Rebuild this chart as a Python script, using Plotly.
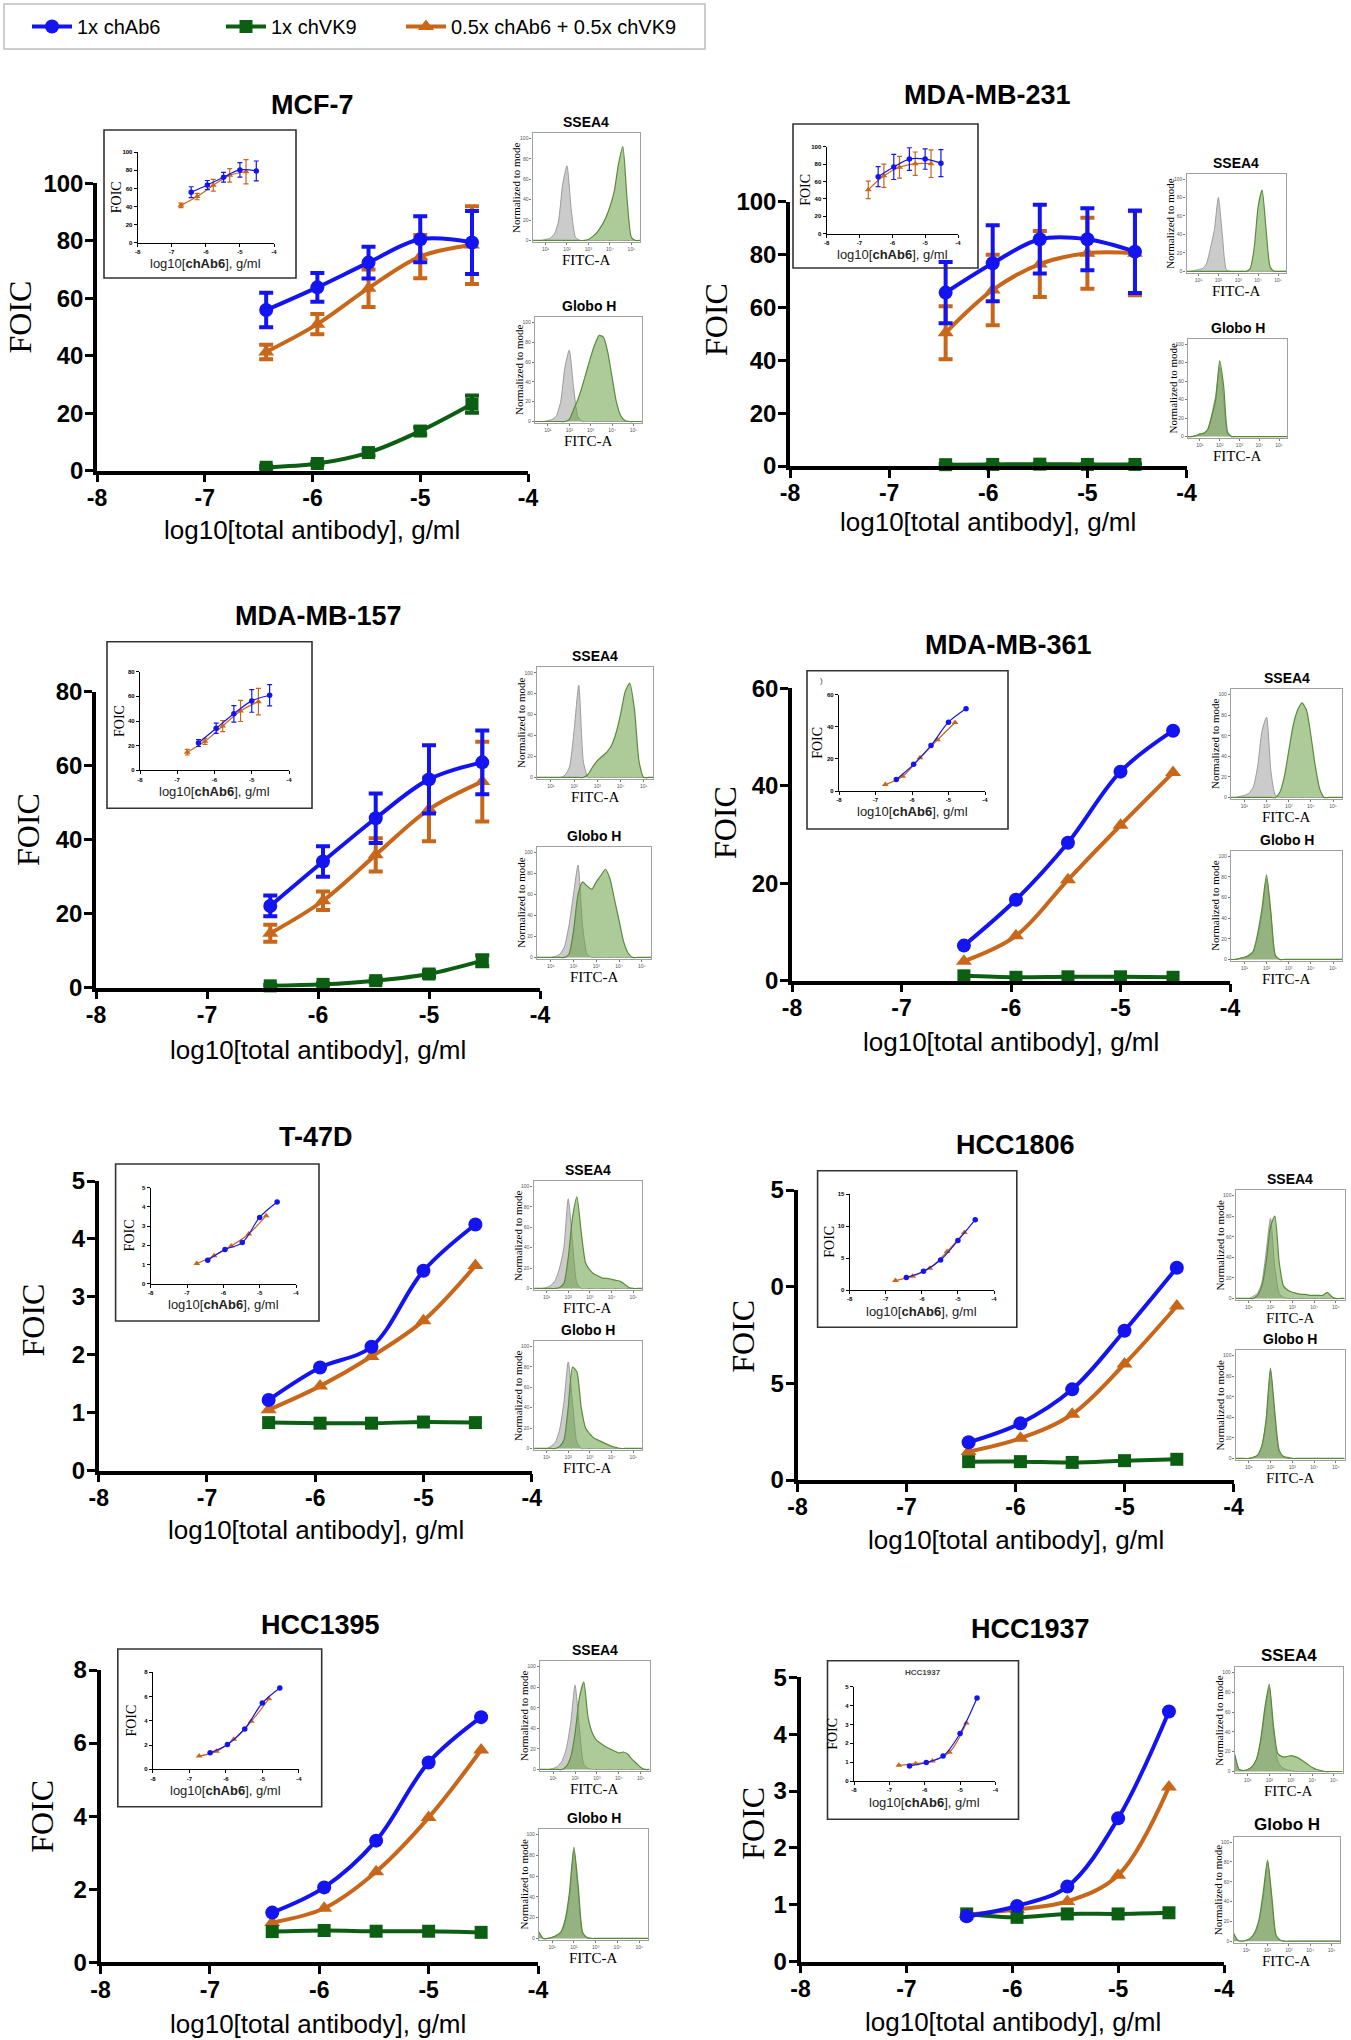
import math
import plotly.graph_objects as go

W, H = 1351, 2040

# ---------------- data ----------------
SERIES_NAMES = ["1x chAb6", "1x chVK9", "0.5x chAb6 + 0.5x chVK9"]
LOG_DOSE = [-6.43, -5.955, -5.48, -5.0, -4.52]          # log10[total antibody], g/ml
LOG_DOSE_MIX_AB6 = [x + math.log10(0.5) for x in LOG_DOSE]  # chAb6 content of the 0.5x mix
X_TICKS = [-8, -7, -6, -5, -4]
X_TICK_TEXT = ["-8", "-7", "-6", "-5", "-4"]

MCF7_AB6 = [55.9, 63.8, 72.4, 80.5, 79.4]
MCF7_AB6_ERR = [6.0, 5.0, 5.5, 8.0, 11.0]
MCF7_VK9 = [1.2, 2.5, 6.3, 13.8, 23.2]
MCF7_VK9_ERR = [0.5, 0.5, 1.0, 1.2, 3.0]
MCF7_MIX = [41.3, 51.0, 63.5, 74.5, 78.5]
MCF7_MIX_ERR = [2.5, 3.5, 6.5, 7.5, 13.5]

MDA231_AB6 = [65.6, 76.7, 85.8, 85.8, 81.1]
MDA231_AB6_ERR = [11.6, 14.4, 13.0, 11.7, 15.6]
MDA231_VK9 = [0.5, 0.6, 0.7, 0.6, 0.6]
MDA231_VK9_ERR = [0.2, 0.2, 0.2, 0.2, 0.2]
MDA231_MIX = [50.4, 66.6, 76.4, 80.5, 80.5]
MDA231_MIX_ERR = [10.0, 13.3, 12.5, 13.4, 15.9]

MDA157_AB6 = [22.1, 34.1, 45.8, 56.3, 60.9]
MDA157_AB6_ERR = [2.8, 4.1, 6.7, 9.2, 8.6]
MDA157_VK9 = [0.5, 0.9, 1.9, 3.7, 7.3]
MDA157_VK9_ERR = [0.3, 0.3, 0.5, 0.8, 1.5]
MDA157_MIX = [14.7, 23.5, 35.9, 48.2, 55.7]
MDA157_MIX_ERR = [2.3, 2.5, 4.5, 8.6, 10.8]

MDA361_AB6 = [7.2, 16.6, 28.3, 42.9, 51.3]
MDA361_VK9 = [1.0, 0.7, 0.8, 0.8, 0.7]
MDA361_MIX = [4.0, 9.2, 20.7, 31.9, 42.7]

T47D_AB6 = [1.22, 1.78, 2.14, 3.45, 4.25]
T47D_VK9 = [0.83, 0.82, 0.82, 0.84, 0.83]
T47D_MIX = [1.05, 1.46, 1.97, 2.59, 3.54]

HCC1806_AB6 = [1.95, 2.93, 4.69, 7.72, 10.98]
HCC1806_VK9 = [0.95, 0.95, 0.91, 1.0, 1.07]
HCC1806_MIX = [1.47, 2.16, 3.40, 6.0, 9.0]

HCC1395_AB6 = [1.36, 2.05, 3.33, 5.47, 6.71]
HCC1395_VK9 = [0.84, 0.87, 0.85, 0.85, 0.82]
HCC1395_MIX = [1.09, 1.48, 2.48, 3.96, 5.81]

HCC1937_AB6 = [0.80, 0.98, 1.32, 2.52, 4.40]
HCC1937_VK9 = [0.84, 0.78, 0.84, 0.84, 0.86]
HCC1937_MIX = [0.83, 0.92, 1.06, 1.52, 3.07]

# flow cytometry histograms (log10 FITC-A channel, % of mode)
HIST_X = [0.4, 0.6, 0.8, 1.0, 1.2, 1.4, 1.6, 1.8, 2.0, 2.2, 2.4, 2.6, 2.8,
          3.0, 3.2, 3.4, 3.6, 3.8, 4.0, 4.2, 4.4, 4.6, 4.8, 5.0, 5.2, 5.4]
HIST_TICKS = [1, 2, 3, 4, 5]
HIST_TICK_TEXT = ["10¹", "10²", "10³", "10⁴", "10⁵"]
HIST_Y_TICKS = [0, 20, 40, 60, 80, 100]

MCF7_SSEA4_ISO = [0, 0, 0, 1, 2, 6, 18, 55, 73, 30, 3, 0, 0, 0, 0, 0, 0, 0, 0, 0, 0, 0, 0, 0, 0, 0]
MCF7_SSEA4_AB = [0, 0, 0, 0, 0, 0, 0, 0, 0, 0, 0, 0, 0, 1, 4, 8, 14, 22, 33, 48, 75, 92, 40, 3, 0, 0]
MCF7_GLOBOH_ISO = [0, 0, 0, 1, 2, 6, 20, 55, 72, 35, 5, 0, 0, 0, 0, 0, 0, 0, 0, 0, 0, 0, 0, 0, 0, 0]
MCF7_GLOBOH_AB = [0, 0, 0, 0, 0, 0, 0, 0, 2, 12, 22, 35, 50, 65, 78, 87, 85, 70, 45, 20, 6, 1, 0, 0, 0, 0]

MDA231_SSEA4_ISO = [0, 0, 1, 2, 3, 8, 25, 45, 80, 40, 2, 0, 0, 0, 0, 0, 0, 0, 0, 0, 0, 0, 0, 0, 0, 0]
MDA231_SSEA4_AB = [0, 0, 0, 0, 0, 0, 0, 0, 0, 0, 0, 0, 0, 0, 0, 0, 3, 25, 70, 88, 45, 5, 0, 0, 0, 0]
MDA231_GLOBOH_ISO = [0, 0, 1, 2, 3, 8, 24, 45, 75, 40, 3, 0, 0, 0, 0, 0, 0, 0, 0, 0, 0, 0, 0, 0, 0, 0]
MDA231_GLOBOH_AB = [0, 0, 1, 3, 4, 8, 22, 40, 82, 55, 5, 0, 0, 0, 0, 0, 0, 0, 0, 0, 0, 0, 0, 0, 0, 0]

MDA157_SSEA4_ISO = [0, 0, 0, 0, 0, 0, 2, 10, 45, 88, 15, 0, 0, 0, 0, 0, 0, 0, 0, 0, 0, 0, 0, 0, 0, 0]
MDA157_SSEA4_AB = [0, 0, 0, 0, 0, 0, 0, 0, 0, 0, 0, 3, 10, 16, 20, 24, 30, 42, 60, 82, 90, 65, 15, 0, 0, 0]
MDA157_GLOBOH_ISO = [0, 0, 0, 0, 1, 3, 10, 30, 60, 88, 30, 3, 0, 0, 0, 0, 0, 0, 0, 0, 0, 0, 0, 0, 0, 0]
MDA157_GLOBOH_AB = [0, 0, 0, 0, 0, 0, 0, 3, 25, 60, 72, 68, 65, 72, 78, 84, 75, 55, 35, 15, 4, 0, 0, 0, 0, 0]

MDA361_SSEA4_ISO = [0, 0, 1, 2, 4, 10, 30, 65, 78, 25, 2, 0, 0, 0, 0, 0, 0, 0, 0, 0, 0, 0, 0, 0, 0, 0]
MDA361_SSEA4_AB = [0, 0, 0, 0, 0, 0, 0, 0, 0, 0, 0, 5, 20, 45, 70, 85, 92, 85, 60, 30, 8, 0, 0, 0, 0, 0]
MDA361_GLOBOH_ISO = [0, 0, 1, 2, 3, 7, 22, 45, 78, 42, 3, 0, 0, 0, 0, 0, 0, 0, 0, 0, 0, 0, 0, 0, 0, 0]
MDA361_GLOBOH_AB = [0, 0, 1, 2, 4, 8, 25, 50, 82, 45, 4, 0, 0, 0, 0, 0, 0, 0, 0, 0, 0, 0, 0, 0, 0, 0]

T47D_SSEA4_ISO = [0, 0, 0, 1, 3, 8, 20, 40, 88, 45, 5, 0, 0, 0, 0, 0, 0, 0, 0, 0, 0, 0, 0, 0, 0, 0]
T47D_SSEA4_AB = [0, 0, 0, 0, 0, 0, 1, 5, 30, 70, 90, 55, 25, 18, 14, 12, 10, 10, 9, 8, 7, 4, 1, 0, 0, 0]
T47D_GLOBOH_ISO = [0, 0, 0, 0, 2, 6, 18, 45, 85, 45, 6, 0, 0, 0, 0, 0, 0, 0, 0, 0, 0, 0, 0, 0, 0, 0]
T47D_GLOBOH_AB = [0, 0, 0, 0, 0, 0, 2, 8, 40, 80, 75, 40, 20, 14, 10, 8, 6, 4, 2, 1, 0, 0, 0, 0, 0, 0]

HCC1806_SSEA4_ISO = [0, 0, 0, 0, 2, 5, 15, 45, 78, 30, 5, 1, 0, 0, 0, 0, 0, 0, 0, 0, 0, 0, 0, 0, 0, 0]
HCC1806_SSEA4_AB = [0, 0, 0, 0, 0, 3, 12, 35, 70, 80, 35, 12, 8, 6, 5, 4, 4, 3, 3, 3, 3, 6, 2, 0, 0, 0]
HCC1806_GLOBOH_ISO = [0, 0, 0, 0, 1, 3, 12, 35, 85, 40, 5, 1, 0, 0, 0, 0, 0, 0, 0, 0, 0, 0, 0, 0, 0, 0]
HCC1806_GLOBOH_AB = [0, 0, 0, 0, 1, 3, 12, 38, 88, 45, 8, 2, 1, 0, 0, 0, 0, 0, 0, 0, 0, 0, 0, 0, 0, 0]

HCC1395_SSEA4_ISO = [0, 0, 0, 1, 3, 8, 20, 45, 82, 40, 5, 1, 0, 0, 0, 0, 0, 0, 0, 0, 0, 0, 0, 0, 0, 0]
HCC1395_SSEA4_AB = [0, 0, 0, 0, 0, 0, 3, 12, 35, 70, 85, 50, 35, 28, 25, 22, 20, 18, 16, 17, 15, 10, 6, 2, 0, 0]
HCC1395_GLOBOH_ISO = [6, 0, 0, 1, 2, 5, 15, 40, 85, 45, 5, 1, 0, 0, 0, 0, 0, 0, 0, 0, 0, 0, 0, 0, 0, 0]
HCC1395_GLOBOH_AB = [6, 0, 0, 1, 3, 6, 18, 45, 88, 50, 6, 1, 0, 0, 0, 0, 0, 0, 0, 0, 0, 0, 0, 0, 0, 0]

HCC1937_SSEA4_ISO = [17, 2, 1, 2, 5, 12, 30, 60, 85, 40, 10, 4, 2, 1, 0, 0, 0, 0, 0, 0, 0, 0, 0, 0, 0, 0]
HCC1937_SSEA4_AB = [17, 2, 1, 2, 5, 12, 32, 65, 88, 45, 18, 15, 15, 16, 15, 13, 10, 7, 4, 2, 1, 0, 0, 0, 0, 0]
HCC1937_GLOBOH_ISO = [8, 1, 0, 1, 3, 8, 20, 45, 80, 40, 5, 1, 0, 0, 0, 0, 0, 0, 0, 0, 0, 0, 0, 0, 0, 0]
HCC1937_GLOBOH_AB = [8, 1, 0, 1, 3, 9, 22, 50, 82, 45, 6, 1, 0, 0, 0, 0, 0, 0, 0, 0, 0, 0, 0, 0, 0, 0]

PANELS = [
    dict(name="MCF-7", ab6=MCF7_AB6, ab6_err=MCF7_AB6_ERR, vk9=MCF7_VK9, vk9_err=MCF7_VK9_ERR,
         mix=MCF7_MIX, mix_err=MCF7_MIX_ERR, ymax=100, dtick=20, iymax=100, idtick=20,
         hist=(MCF7_SSEA4_ISO, MCF7_SSEA4_AB, MCF7_GLOBOH_ISO, MCF7_GLOBOH_AB)),
    dict(name="MDA-MB-231", ab6=MDA231_AB6, ab6_err=MDA231_AB6_ERR, vk9=MDA231_VK9, vk9_err=MDA231_VK9_ERR,
         mix=MDA231_MIX, mix_err=MDA231_MIX_ERR, ymax=100, dtick=20, iymax=100, idtick=20,
         hist=(MDA231_SSEA4_ISO, MDA231_SSEA4_AB, MDA231_GLOBOH_ISO, MDA231_GLOBOH_AB)),
    dict(name="MDA-MB-157", ab6=MDA157_AB6, ab6_err=MDA157_AB6_ERR, vk9=MDA157_VK9, vk9_err=MDA157_VK9_ERR,
         mix=MDA157_MIX, mix_err=MDA157_MIX_ERR, ymax=80, dtick=20, iymax=80, idtick=20,
         hist=(MDA157_SSEA4_ISO, MDA157_SSEA4_AB, MDA157_GLOBOH_ISO, MDA157_GLOBOH_AB)),
    dict(name="MDA-MB-361", ab6=MDA361_AB6, ab6_err=None, vk9=MDA361_VK9, vk9_err=None,
         mix=MDA361_MIX, mix_err=None, ymax=60, dtick=20, iymax=60, idtick=20,
         hist=(MDA361_SSEA4_ISO, MDA361_SSEA4_AB, MDA361_GLOBOH_ISO, MDA361_GLOBOH_AB)),
    dict(name="T-47D", ab6=T47D_AB6, ab6_err=None, vk9=T47D_VK9, vk9_err=None,
         mix=T47D_MIX, mix_err=None, ymax=5, dtick=1, iymax=5, idtick=1,
         hist=(T47D_SSEA4_ISO, T47D_SSEA4_AB, T47D_GLOBOH_ISO, T47D_GLOBOH_AB)),
    dict(name="HCC1806", ab6=HCC1806_AB6, ab6_err=None, vk9=HCC1806_VK9, vk9_err=None,
         mix=HCC1806_MIX, mix_err=None, ymax=15, dtick=5, iymax=15, idtick=5,
         ytext=["0", "5", "0", "5"],
         hist=(HCC1806_SSEA4_ISO, HCC1806_SSEA4_AB, HCC1806_GLOBOH_ISO, HCC1806_GLOBOH_AB)),
    dict(name="HCC1395", ab6=HCC1395_AB6, ab6_err=None, vk9=HCC1395_VK9, vk9_err=None,
         mix=HCC1395_MIX, mix_err=None, ymax=8, dtick=2, iymax=8, idtick=2,
         hist=(HCC1395_SSEA4_ISO, HCC1395_SSEA4_AB, HCC1395_GLOBOH_ISO, HCC1395_GLOBOH_AB)),
    dict(name="HCC1937", ab6=HCC1937_AB6, ab6_err=None, vk9=HCC1937_VK9, vk9_err=None,
         mix=HCC1937_MIX, mix_err=None, ymax=5, dtick=1, iymax=5, idtick=1,
         inset_title="HCC1937",
         hist=(HCC1937_SSEA4_ISO, HCC1937_SSEA4_AB, HCC1937_GLOBOH_ISO, HCC1937_GLOBOH_AB)),
]

# ---------------- layout geometry (pixels) ----------------
GEOM = [
    dict(main=(97, 528, 183.3, 470.7), ibox=(104, 296, 130, 278), iax=(137.7, 274, 152.3, 242.7),
         ssea=(532.6, 640, 132.7, 242), globo=(535, 642, 317, 423),
         title=(312, 105), ylab=(19.5, 317), xlab=(312, 528)),
    dict(main=(790, 1186.5, 201.7, 466), ibox=(793, 978, 124, 268), iax=(826.6, 958, 146.7, 233.7),
         ssea=(1186.5, 1286, 174, 272.7), globo=(1188, 1287, 339, 438),
         title=(987.7, 95), ylab=(716, 320), xlab=(988, 520)),
    dict(main=(96, 540, 691.7, 987.7), ibox=(107, 312, 641.7, 808.3), iax=(140, 289, 671.7, 770.3),
         ssea=(537, 653, 667, 779), globo=(537, 651, 846.7, 959),
         title=(318, 616), ylab=(28, 830), xlab=(318, 1048)),
    dict(main=(792, 1230, 688.3, 980.7), ibox=(807, 1008, 670.7, 829), iax=(839, 985, 694.7, 791),
         ssea=(1231, 1342, 689, 799), globo=(1231, 1342, 850.7, 961),
         title=(1009, 645), ylab=(725, 823), xlab=(1011, 1040)),
    dict(main=(98.7, 531.7, 1181, 1470.7), ibox=(115.6, 319, 1164, 1321), iax=(150.7, 296, 1187.7, 1283.7),
         ssea=(533.5, 642, 1181, 1290), globo=(533.5, 642, 1341, 1450),
         title=(316, 1136.7), ylab=(32.5, 1320), xlab=(316, 1528)),
    dict(main=(797.5, 1233.5, 1190, 1480), ibox=(817.6, 1016.8, 1170.7, 1327.3), iax=(849.7, 994, 1194, 1290),
         ssea=(1235.6, 1344.6, 1190, 1300), globo=(1235.6, 1344.6, 1350, 1460),
         title=(1015.5, 1145), ylab=(743, 1336.7), xlab=(1015.5, 1538)),
    dict(main=(100.5, 538, 1670, 1962.3), ibox=(117.8, 321.7, 1649, 1806.7), iax=(152.8, 298.8, 1672.3, 1769.3),
         ssea=(540, 649.5, 1661, 1771), globo=(539, 648, 1829, 1940),
         title=(320, 1625), ylab=(42, 1816.7), xlab=(318, 2021.7)),
    dict(main=(800.5, 1224, 1677.3, 1961.7), ibox=(827.5, 1018.5, 1660.7, 1819.3), iax=(854, 995.4, 1686.7, 1781),
         ssea=(1234.8, 1342.5, 1667, 1773), globo=(1233.5, 1340, 1836.7, 1942.7),
         title=(1030.5, 1629), ylab=(752.7, 1823), xlab=(1012.5, 2020)),
]
LEGEND_BOX = (4, 705, 4, 49)
LEGEND_X = [27, 221, 401]
LEGEND_TOP = 7

BLUE = "#1414f0"
GREEN = "#0b5e12"
ORANGE = "#c8661a"
SANS = "Liberation Sans, Arial, sans-serif"
SERIF = "Liberation Serif, Times New Roman, serif"


def X(p):
    return p / W


def Y(p):
    return 1 - p / H


def names(n):
    s = "" if n == 1 else str(n)
    return "xaxis" + s, "yaxis" + s, "x" + s, "y" + s


fig = go.Figure()
axes = {}
annotations = []
shapes = []
LEGEND_IDS = ["legend", "legend2", "legend3"]


def ann(text, x, y, size, family=SANS, bold=False, angle=0, color="black"):
    annotations.append(dict(text=text, x=X(x), y=Y(y), xref="paper", yref="paper",
                            xanchor="center", yanchor="middle", showarrow=False, textangle=angle,
                            font=dict(family=family, size=size, color=color,
                                      weight="bold" if bold else "normal")))


for k, (P, G) in enumerate(zip(PANELS, GEOM)):
    n_main, n_in, n_s, n_g = 4 * k + 1, 4 * k + 2, 4 * k + 3, 4 * k + 4

    # ---- main axes ----
    xa, ya, xr, yr = names(n_main)
    x0, x1, yt, yb = G["main"]
    yt_vals = list(range(0, P["ymax"] + 1, P["dtick"]))
    axes[xa] = dict(domain=[X(x0), X(x1)], anchor=yr, range=[-8, -4], tickvals=X_TICKS,
                    ticktext=X_TICK_TEXT, showline=True, linewidth=3.5, linecolor="black",
                    ticks="outside", ticklen=8, tickwidth=3, tickcolor="black",
                    showgrid=False, zeroline=False, automargin=False, ticklabelstandoff=-4,
                    tickfont=dict(family=SANS, size=23, color="black", weight="bold"))
    axes[ya] = dict(domain=[Y(yb), Y(yt)], anchor=xr, range=[0, P["ymax"]], tickvals=yt_vals,
                    ticktext=P.get("ytext", [str(v) for v in yt_vals]),
                    showline=True, linewidth=3.5, linecolor="black",
                    ticks="outside", ticklen=8, tickwidth=3, tickcolor="black",
                    showgrid=False, zeroline=False, automargin=False, ticklabelstandoff=-3,
                    tickfont=dict(family=SANS, size=24, color="black", weight="bold"))

    # drawn bottom to top: orange, green, blue
    specs = [
        (2, P["mix"], P["mix_err"], ORANGE, "triangle-up", 14),
        (1, P["vk9"], P["vk9_err"], GREEN, "square", 13),
        (0, P["ab6"], P["ab6_err"], BLUE, "circle", 14),
    ]
    for si, vals, err, col, sym, msz in specs:
        ey = dict(type="data", array=err, visible=True, thickness=4, width=7, color=col) if err else None
        fig.add_trace(go.Scatter(
            x=LOG_DOSE, y=vals, mode="lines+markers", name=SERIES_NAMES[si], legendgroup=SERIES_NAMES[si],
            legend=LEGEND_IDS[si], showlegend=(k == 0), line=dict(color=col, width=4, shape="spline"),
            marker=dict(symbol=sym, size=msz, color=col), error_y=ey,
            xaxis=xr, yaxis=yr, cliponaxis=False))

    ann(P["name"], G["title"][0], G["title"][1], 27, bold=True)
    ann("FOIC", G["ylab"][0], G["ylab"][1], 32, family=SERIF, angle=-90)
    ann("log10[total antibody], g/ml", G["xlab"][0], G["xlab"][1] + 2, 26)

    # ---- inset ----
    xa, ya, xr, yr = names(n_in)
    ix0, ix1, iyt, iyb = G["iax"]
    iy_vals = list(range(0, P["iymax"] + 1, P["idtick"]))
    axes[xa] = dict(domain=[X(ix0), X(ix1)], anchor=yr, range=[-8, -4], tickvals=X_TICKS,
                    ticktext=X_TICK_TEXT, showline=True, linewidth=1.2, linecolor="black",
                    ticks="outside", ticklen=3, tickwidth=1, tickcolor="black",
                    showgrid=False, zeroline=False, automargin=False,
                    tickfont=dict(family=SANS, size=6, color="black", weight="bold"))
    axes[ya] = dict(domain=[Y(iyb), Y(iyt)], anchor=xr, range=[0, P["iymax"]], tickvals=iy_vals,
                    showline=True, linewidth=1.2, linecolor="black",
                    ticks="outside", ticklen=3, tickwidth=1, tickcolor="black",
                    showgrid=False, zeroline=False, automargin=False,
                    tickfont=dict(family=SANS, size=6, color="black", weight="bold"))
    for si, xs, vals, err, col, sym, msz in [
        (2, LOG_DOSE_MIX_AB6, P["mix"], P["mix_err"], ORANGE, "triangle-up", 6),
        (0, LOG_DOSE, P["ab6"], P["ab6_err"], BLUE, "circle", 5.5),
    ]:
        ey = dict(type="data", array=err, visible=True, thickness=1.2, width=2.5, color=col) if err else None
        fig.add_trace(go.Scatter(
            x=xs, y=vals, mode="lines+markers", name=SERIES_NAMES[si], legendgroup=SERIES_NAMES[si],
            legend=LEGEND_IDS[si], showlegend=False,
            line=dict(color=col, width=1.2, shape="spline"), marker=dict(symbol=sym, size=msz, color=col),
            error_y=ey, xaxis=xr, yaxis=yr, cliponaxis=False))
    bx0, bx1, by0, by1 = G["ibox"]
    shapes.append(dict(type="rect", xref="paper", yref="paper", x0=X(bx0), x1=X(bx1), y0=Y(by1), y1=Y(by0),
                       line=dict(color="#333333", width=1.6), fillcolor="rgba(0,0,0,0)", layer="above"))
    ann("log10[<b>chAb6</b>], g/ml", (ix0 + ix1) / 2, iyb + 21, 13, color="#222222")
    ann("FOIC", ix0 - 21, (iyt + iyb) / 2, 14, family=SERIF, angle=-90)
    if P.get("inset_title"):
        ann(P["inset_title"], (bx0 + bx1) / 2, by0 + 12, 8, bold=True, color="#444444")
    if k == 3:
        ann(")", bx0 + 14, by0 + 10, 8, color="#444444")

    # ---- histograms ----
    iso_s, ab_s, iso_g, ab_g = P["hist"]
    for n, box, iso, ab, label in [(n_s, G["ssea"], iso_s, ab_s, "SSEA4"),
                                   (n_g, G["globo"], iso_g, ab_g, "Globo H")]:
        xa, ya, xr, yr = names(n)
        hx0, hx1, hy0, hy1 = box
        axes[xa] = dict(domain=[X(hx0), X(hx1)], anchor=yr, range=[0.4, 5.4], tickvals=HIST_TICKS,
                        ticktext=HIST_TICK_TEXT, showline=True, mirror=True, linewidth=1.3,
                        linecolor="#a0a0a0", ticks="outside", ticklen=2, tickwidth=0.8,
                        tickcolor="#777777", showgrid=False, zeroline=False, automargin=False,
                        tickfont=dict(family=SANS, size=5, color="#555555"))
        axes[ya] = dict(domain=[Y(hy1), Y(hy0)], anchor=xr, range=[-1.5, 105.5], tickvals=HIST_Y_TICKS,
                        showline=True, mirror=True, linewidth=1.3, linecolor="#a0a0a0",
                        ticks="outside", ticklen=2, tickwidth=0.8, tickcolor="#777777",
                        showgrid=False, zeroline=False, automargin=False,
                        tickfont=dict(family=SANS, size=5, color="#555555"))
        fig.add_trace(go.Scatter(x=HIST_X, y=iso, mode="lines", fill="tozeroy", showlegend=False,
                                 line=dict(color="#9a9a9a", width=1, shape="spline", smoothing=0.6),
                                 fillcolor="rgba(175,175,175,0.65)", xaxis=xr, yaxis=yr,
                                 hoverinfo="skip"))
        fig.add_trace(go.Scatter(x=HIST_X, y=ab, mode="lines", fill="tozeroy", showlegend=False,
                                 line=dict(color="#5b8a3a", width=1.2, shape="spline", smoothing=0.6),
                                 fillcolor="rgba(105,160,70,0.55)", xaxis=xr, yaxis=yr,
                                 hoverinfo="skip"))
        cx = (hx0 + hx1) / 2
        if k == 7:
            ann(label, cx, hy0 - 12, 17, bold=True)
        else:
            ann(label, cx, hy0 - 11, 14, bold=True)
        ann("Normalized to mode", hx0 - 16, (hy0 + hy1) / 2, 11, family=SERIF, angle=-90)
        ann("FITC-A", cx, hy1 + 18, 15, family=SERIF)

# legend frame
lx0, lx1, ly0, ly1 = LEGEND_BOX
shapes.append(dict(type="rect", xref="paper", yref="paper", x0=X(lx0), x1=X(lx1), y0=Y(ly1), y1=Y(ly0),
                   line=dict(color="#bdbdbd", width=1.5), fillcolor="rgba(0,0,0,0)"))
legends = {}
for lid, lx in zip(LEGEND_IDS, LEGEND_X):
    legends[lid] = dict(orientation="h", x=X(lx), y=Y(LEGEND_TOP), xanchor="left", yanchor="top",
                        bgcolor="rgba(0,0,0,0)", borderwidth=0, itemwidth=40,
                        font=dict(family=SANS, size=20, color="black"))

fig.update_layout(
    width=W, height=H, margin=dict(l=0, r=0, t=0, b=0, autoexpand=False),
    paper_bgcolor="white", plot_bgcolor="rgba(0,0,0,0)",
    showlegend=True, annotations=annotations, shapes=shapes, **legends, **axes)

fig.write_html("out.html", config={"displayModeBar": False},
               post_script=["document.body.style.margin='0px';"])
